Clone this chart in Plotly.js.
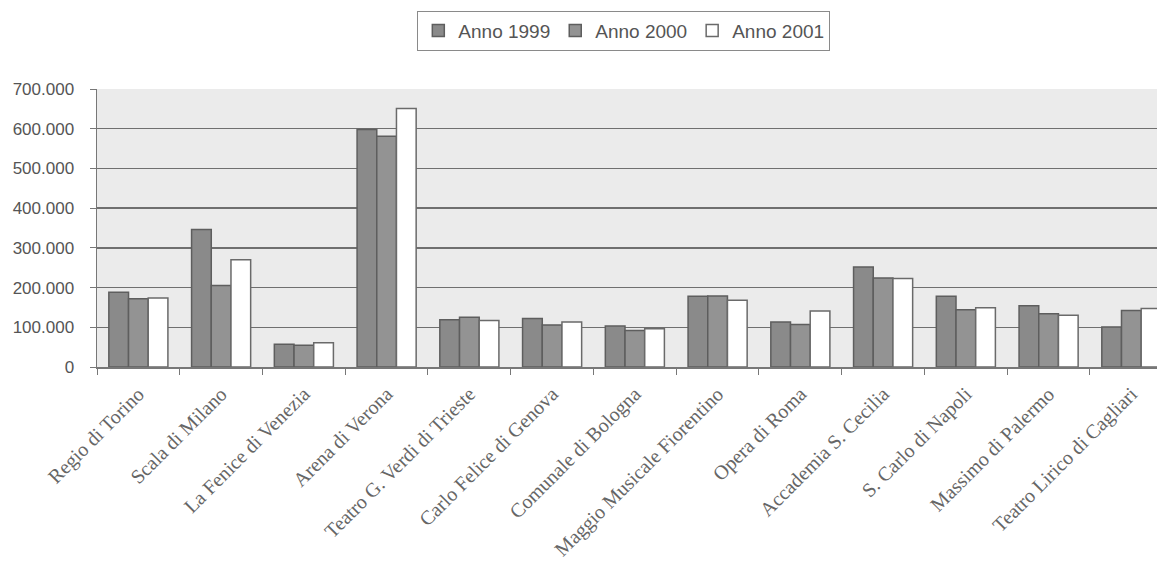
<!DOCTYPE html>
<html>
<head>
<meta charset="utf-8">
<script src="https://cdn.plot.ly/plotly-3.0.1.min.js"></script>
<style>html,body{margin:0;padding:0;background:#fff;}#chart{width:1157px;height:568px;}</style>
</head>
<body>
<div id="chart"></div>
<script>
const categories = ["Regio di Torino","Scala di Milano","La Fenice di Venezia","Arena di Verona","Teatro G. Verdi di Trieste","Carlo Felice di Genova","Comunale di Bologna","Maggio Musicale Fiorentino","Opera di Roma","Accademia S. Cecilia","S. Carlo di Napoli","Massimo di Palermo","Teatro Lirico di Cagliari"];
const anno1999 = [188000,346000,57000,598000,119000,122000,103000,178000,113000,252000,178000,154000,101000];
const anno2000 = [172000,205000,55000,581000,125000,106000,92000,179000,107000,224000,144000,134000,142000];
const anno2001 = [174000,270000,61000,651000,117000,113000,96000,168000,141000,223000,149000,130000,147000];
const seriesNames = ["Anno 1999","Anno 2000","Anno 2001"];
const yTicks = [0,100000,200000,300000,400000,500000,600000,700000];

const traces = [
  {type:'bar', name:seriesNames[0], x:categories, y:anno1999,
   marker:{color:'#8a8a8a', line:{color:'#5e5e5e', width:1.5}}},
  {type:'bar', name:seriesNames[1], x:categories, y:anno2000,
   marker:{color:'#939393', line:{color:'#5e5e5e', width:1.5}}},
  {type:'bar', name:seriesNames[2], x:categories, y:anno2001,
   marker:{color:'#ffffff', line:{color:'#6a6a6a', width:1.5}}}
];

const layout = {
  width:1157, height:568,
  margin:{l:97, r:0, t:89, b:201},
  paper_bgcolor:'#ffffff',
  plot_bgcolor:'#ebebeb',
  separators:',.',
  barmode:'group',
  bargap:0.286,
  bargroupgap:0,
  showlegend:true,
  legend:{orientation:'h', x:0.497, xanchor:'center', y:1.282, yanchor:'top',
    bgcolor:'#ffffff', bordercolor:'#8a8a8a', borderwidth:1,
    font:{family:'Liberation Sans, Arial, sans-serif', size:19, color:'#555'},
    itemwidth:30, traceorder:'normal'},
  xaxis:{type:'category', range:[-0.5,12.31], showgrid:false,
    showline:true, linecolor:'#777', linewidth:1.5,
    ticks:'outside', tickson:'boundaries', ticklen:6, tickcolor:'#777',
    tickangle:-45, ticklabelstandoff:6,
    tickfont:{family:'Liberation Serif, Times New Roman, serif', size:20, color:'#666'}},
  yaxis:{range:[0,700000], tickvals:yTicks, tickformat:',d',
    showgrid:true, gridcolor:'#6f6f6f', gridwidth:1.5,
    zeroline:false, showline:true, linecolor:'#777', linewidth:1.5,
    ticks:'outside', ticklen:6, tickcolor:'#777', ticklabelstandoff:12,
    tickfont:{family:'Liberation Sans, Arial, sans-serif', size:17, color:'#555'}}
};

Plotly.newPlot('chart', traces, layout, {displayModeBar:false, staticPlot:true});
</script>
</body>
</html>
